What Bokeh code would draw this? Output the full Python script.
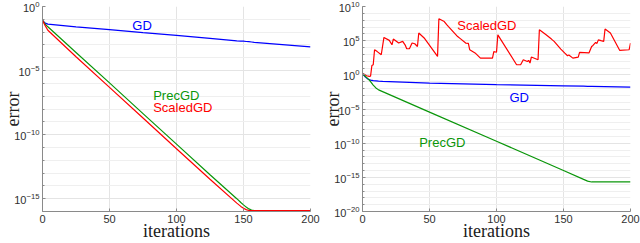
from bokeh.plotting import figure
from bokeh.layouts import row
from bokeh.models import FixedTicker, Range1d
from bokeh.core.properties import value
from bokeh.embed import file_html
from bokeh.resources import INLINE

# ---------------- data: left panel ----------------
iters_L = [0, 2, 4, 25, 50, 75, 100, 125, 145, 148, 150, 152, 154, 156, 158, 200]
gd_L = [8.3e-2, 5.0e-2, 4.2e-2, 2.6e-2, 1.55e-2, 9.1e-3, 5.5e-3, 3.2e-3,
        2.1e-3, 2.0e-3, 1.95e-3, 1.85e-3, 1.8e-3, 1.7e-3, 1.6e-3, 7.1e-4]
precgd_L = [8.3e-2, 4.2e-2, 2.6e-2, 2.6e-4, 1.1e-6, 4.4e-9, 1.8e-11, 7.4e-14,
            1.0e-15, 5.0e-16, 3.3e-16, 2.2e-16, 1.6e-16, 1.3e-16, 1.2e-16, 1.2e-16]
scaledgd_L = [8.3e-2, 3.2e-2, 1.4e-2, 1.2e-4, 4.9e-7, 2.0e-9, 7.9e-12, 3.3e-14,
              4.5e-16, 2.5e-16, 1.8e-16, 1.4e-16, 1.2e-16, 1.2e-16, 1.2e-16, 1.2e-16]

# ---------------- data: right panel ----------------
iters_R = [0, 2, 4, 6, 8, 10, 12, 15, 50, 100, 150, 165, 168, 171, 200]
gd_R = [1.45, 0.50, 0.25, 0.17, 0.14, 0.13, 0.12, 0.11, 6.3e-2, 3.8e-2,
        2.5e-2, 2.2e-2, 2.1e-2, 2.1e-2, 1.6e-2]
precgd_R = [1.45, 0.63, 0.28, 0.105, 3.2e-2, 1.2e-2, 6.3e-3, 3.5e-3, 3.5e-6,
            1.9e-10, 1.0e-14, 5.0e-16, 2.8e-16, 2.1e-16, 2.1e-16]
sgd_iters_R = [0, 1, 3, 5, 6, 7, 8, 9, 11, 14, 16, 20, 22, 23, 27, 30, 32, 33, 35,
               37, 39, 41, 42, 46, 56, 57, 61, 63, 64, 71, 73, 77, 79, 80, 84, 88,
               97, 98, 100, 101, 115, 118, 120, 123, 124, 125, 126, 131, 132, 137,
               141, 143, 148, 151, 153, 154, 157, 161, 162, 169, 171, 172, 174, 175,
               176, 178, 180, 181, 185, 192, 199, 200]
scaledgd_R = [1.4, 1.3, 0.74, 0.59, 0.63, 2.3e1, 3.0e1, 4.7e3, 2.5e3, 8.7e2, 3.0e5,
              1.1e5, 2.5e4, 1.7e5, 4.5e4, 7.9e4, 2.0e4, 6.6e3, 6.6e3, 4.5e4, 3.5e4,
              1.4e4, 1.3e6, 2.5e5, 5.0e2, 1.6e8, 6.3e7, 2.0e7, 1.2e7, 4.0e5, 2.0e5,
              4.5e4, 4.0e4, 4.7e3, 1.6e3, 2.8e2, 2.8e2, 2.5e3, 2.0e3, 7.2e5, 3.0e1,
              3.0e1, 1.6e2, 9.1e1, 1.3e2, 5.2e1, 4.0e2, 1.6e2, 4.0e6, 7.2e5, 1.7e5,
              7.9e4, 5.9e3, 1.5e3, 6.3e2, 7.9e2, 2.8e2, 4.0e2, 1.9e3, 1.6e3, 1.4e4,
              2.0e4, 5.5e4, 4.0e4, 1.3e5, 1.0e5, 7.9e4, 5.0e6, 1.3e6, 3.7e3, 4.7e3,
              4.5e4]

x_ticks = [0, 50, 100, 150, 200]
y_ticks_L = [1e0, 1e-5, 1e-10, 1e-15]
y_minor_L = [10.0 ** -k for k in range(0, 17)]
y_ticks_R = [1e10, 1e5, 1e0, 1e-5, 1e-10, 1e-15, 1e-20]
y_minor_R = [10.0 ** k for k in range(-20, 11)]

BLUE = "#0000ff"
GREEN = "#0a960a"
RED = "#ff0000"
SANS = "Liberation Sans"
SERIF = "Liberation Serif"


def make_fig(yr, yt, ym):
    p = figure(width=320, height=243, y_axis_type="log",
               x_range=Range1d(0, 200), y_range=Range1d(*yr),
               output_backend="svg", toolbar_location=None,
               min_border_left=42, min_border_right=10,
               min_border_top=6, min_border_bottom=32)
    p.outline_line_color = None
    p.background_fill_color = "white"
    p.xaxis.ticker = FixedTicker(ticks=x_ticks, minor_ticks=[])
    p.yaxis.ticker = FixedTicker(ticks=yt, minor_ticks=ym)
    for ax in (p.xaxis[0], p.yaxis[0]):
        ax.axis_line_color = "#8a8a8a"
        ax.major_tick_line_color = "#8a8a8a"
        ax.minor_tick_line_color = "#8a8a8a"
        ax.major_tick_in = 3
        ax.major_tick_out = 0
        ax.minor_tick_in = 2
        ax.minor_tick_out = 0
        ax.major_label_text_font = SANS
        ax.major_label_text_font_size = "11px"
        ax.major_label_text_color = "#303030"
        ax.major_label_standoff = 3
        ax.axis_label_text_font = SERIF
        ax.axis_label_text_font_style = "normal"
        ax.axis_label_text_font_size = "18px"
        ax.axis_label_text_color = "#202020"
    p.xaxis.axis_label = "iterations"
    p.yaxis.axis_label = "error"
    p.xaxis.axis_label_standoff = -5
    p.yaxis.axis_label_standoff = -12
    p.xgrid.grid_line_color = "#e4e4e4"
    p.ygrid.grid_line_color = "#e4e4e4"
    p.ygrid.minor_grid_line_color = "#efefef"
    return p


def tag(p, x, y, s, c):
    p.text(x=[x], y=[y], text=[s], text_color=c,
           text_font=value(SANS), text_font_size="13px",
           text_align="left", text_baseline="middle")


# ---------------- left panel ----------------
p1 = make_fig((1e-16, 1e0), y_ticks_L, y_minor_L)
p1.line(iters_L, gd_L, line_color=BLUE, line_width=1.2)
p1.line(iters_L, precgd_L, line_color=GREEN, line_width=1.2)
p1.line(iters_L, scaledgd_L, line_color=RED, line_width=1.2)
tag(p1, 67, 3.4e-2, "GD", BLUE)
tag(p1, 82.6, 1.1e-7, "PrecGD", GREEN)
tag(p1, 82.6, 1.3e-8, "ScaledGD", RED)

# ---------------- right panel ----------------
p2 = make_fig((1e-20, 1e10), y_ticks_R, y_minor_R)
p2.line(sgd_iters_R, scaledgd_R, line_color=RED, line_width=1.2)
p2.line(iters_R, gd_R, line_color=BLUE, line_width=1.2)
p2.line(iters_R, precgd_R, line_color=GREEN, line_width=1.2)
tag(p2, 70.7, 1.7e7, "ScaledGD", RED)
tag(p2, 109.7, 4.8e-4, "GD", BLUE)
tag(p2, 42.3, 1.2e-10, "PrecGD", GREEN)

layout = row(p1, p2)
open("out.html", "w").write(file_html(layout, INLINE))
